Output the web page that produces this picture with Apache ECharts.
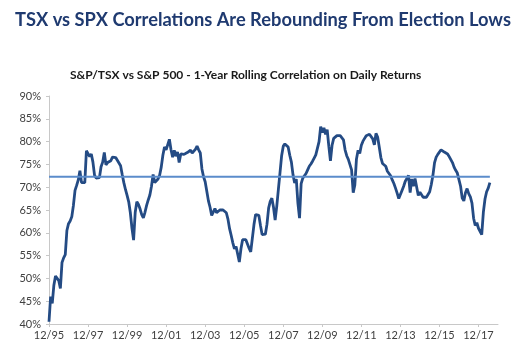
<!DOCTYPE html>
<html>
<head>
<meta charset="utf-8">
<script src="https://cdn.jsdelivr.net/npm/echarts@6/dist/echarts.min.js"></script>
<style>
  html, body { margin: 0; padding: 0; background: #fff; }
  #chart { width: 528px; height: 350px; }
</style>
</head>
<body>
<div id="chart"></div>
<script>
// monthly axis from 12/95 to 12/18
const startYear = 1995;
const startMonth = 12;
const monthCount = 277;

// 1-year rolling correlation, % (monthly readings from 12/95)
const correlation = [
  40.5, 46.0, 44.5, 48.5, 50.5, 50.8, 49.5, 47.8, 53.5, 54.5, 55.2, 60.5,
  62.0, 62.6, 63.5, 66.0, 69.3, 70.4, 71.6, 73.6, 71.0, 70.6, 71.0, 78.0,
  78.4, 76.7, 77.3, 75.5, 72.6, 72.0, 72.2, 72.1, 74.5, 75.5, 77.6, 74.9,
  75.4, 75.6, 75.8, 76.6, 77.0, 76.5, 75.9, 75.3, 74.7, 72.8, 71.0, 69.5,
  68.2, 66.8, 64.4, 61.0, 58.4, 64.5, 66.8, 66.2, 65.2, 64.0, 63.3, 64.5,
  66.0, 67.2, 68.3, 70.2, 72.8, 71.0, 70.8, 71.8, 72.6, 74.4, 77.0, 78.8,
  78.2, 78.5, 80.5, 78.2, 76.6, 78.1, 76.8, 77.7, 75.4, 77.3, 77.0, 77.2,
  77.3, 77.6, 77.9, 78.1, 77.5, 77.8, 78.3, 79.0, 78.2, 77.5, 74.0, 72.3,
  71.2, 69.1, 67.0, 65.6, 63.8, 64.2, 65.3, 64.4, 64.8, 65.0, 64.6, 65.0,
  64.8, 64.4, 63.0, 60.9, 59.4, 57.8, 56.5, 57.0, 55.3, 53.6, 56.5, 58.5,
  58.8, 58.5, 58.6, 56.6, 55.8, 56.0, 61.8, 64.0, 64.2, 63.8, 61.6, 59.6,
  59.2, 59.7, 61.9, 65.4, 66.9, 67.6, 65.6, 62.8, 65.8, 69.5, 73.2, 76.9,
  79.0, 79.5, 79.5, 78.8, 77.0, 75.5, 72.7, 70.9, 71.8, 66.5, 63.2, 70.8,
  72.0, 72.4, 73.0, 73.8, 74.6, 75.1, 75.7, 76.4, 77.1, 76.8, 80.0, 83.3,
  82.0, 83.0, 81.6, 82.6, 79.0, 75.8, 79.2, 80.7, 81.1, 81.3, 81.4, 81.3,
  81.0, 80.4, 78.2, 76.9, 76.1, 76.0, 73.8, 68.8, 70.5, 76.2, 78.1, 77.4,
  79.2, 80.1, 80.7, 81.3, 81.7, 81.6, 81.2, 80.6, 79.3, 81.8, 81.0, 78.8,
  76.5, 75.2, 74.8, 74.6, 73.5, 73.2, 72.5, 71.6, 70.8, 69.8, 68.7, 67.5,
  67.6, 69.3, 70.2, 71.3, 71.9, 72.6, 68.8, 71.8, 70.2, 71.9, 71.5, 68.2,
  68.9, 68.6, 67.8, 68.0, 67.8, 67.6, 69.0, 70.6, 72.6, 75.4, 76.6, 77.2,
  77.6, 78.2, 78.6, 77.7, 77.4, 77.3, 76.7, 76.4, 75.4, 74.4, 73.7, 73.1,
  72.8, 70.2, 67.6, 67.0, 68.8, 69.7, 68.6, 67.9, 66.5, 63.2, 61.6, 62.2,
  61.0, 60.8, 59.6, 64.5, 67.4, 69.0, 69.8, 71.0
];

// long-run average level, %
const averageLevel = 72.3;

const months = [];
for (let i = 0; i < monthCount; i++) {
  const mm = (startMonth - 1 + i) % 12 + 1;
  const yy = startYear + Math.floor((startMonth - 1 + i) / 12);
  months.push(String(mm).padStart(2, '0') + '/' + String(yy % 100).padStart(2, '0'));
}

const lastIdx = correlation.length - 1;

const chart = echarts.init(document.getElementById('chart'));

chart.setOption({
  animation: false,
  backgroundColor: '#fff',
  title: [
    {
      text: 'TSX vs SPX Correlations Are Rebounding From Election Lows',
      left: 10,
      top: 6,
      textStyle: {
        fontFamily: 'Lato',
        fontWeight: 'bold',
        fontSize: 18.3,
        color: '#1f3a70'
      }
    },
    {
      text: 'S&P/TSX vs S&P 500 - 1-Year Rolling Correlation on Daily Returns',
      left: 65,
      top: 64,
      textStyle: {
        fontFamily: 'Lato',
        fontWeight: 'bold',
        fontSize: 12,
        color: '#1a1a1a'
      }
    }
  ],
  grid: {
    left: 49,
    right: 30,
    top: 96,
    bottom: 26,
    containLabel: false
  },
  xAxis: {
    type: 'category',
    data: months,
    boundaryGap: false,
    axisLine: { lineStyle: { color: '#c8c8c8', width: 1 } },
    axisTick: {
      show: true,
      interval: 23,
      length: 3,
      lineStyle: { color: '#c8c8c8' }
    },
    axisLabel: {
      interval: 23,
      color: '#404040',
      fontFamily: 'Lato',
      fontSize: 11,
      margin: 6
    },
    splitLine: { show: false }
  },
  yAxis: {
    type: 'value',
    min: 40,
    max: 90,
    interval: 5,
    axisLine: { show: true, lineStyle: { color: '#c8c8c8', width: 1 } },
    axisTick: { show: true, length: 3, lineStyle: { color: '#c8c8c8' } },
    axisLabel: {
      formatter: '{value}%',
      color: '#404040',
      fontFamily: 'Lato',
      fontSize: 11,
      margin: 8
    },
    splitLine: { show: false }
  },
  series: [
    {
      name: 'Correlation',
      type: 'line',
      data: correlation,
      showSymbol: false,
      lineStyle: { color: '#244b84', width: 2.8 },
      z: 2
    },
    {
      name: 'Average',
      type: 'line',
      data: [[months[0], averageLevel], [months[lastIdx], averageLevel]],
      showSymbol: false,
      lineStyle: { color: '#5b8ccb', width: 2 },
      z: 3
    }
  ]
});
</script>
</body>
</html>
